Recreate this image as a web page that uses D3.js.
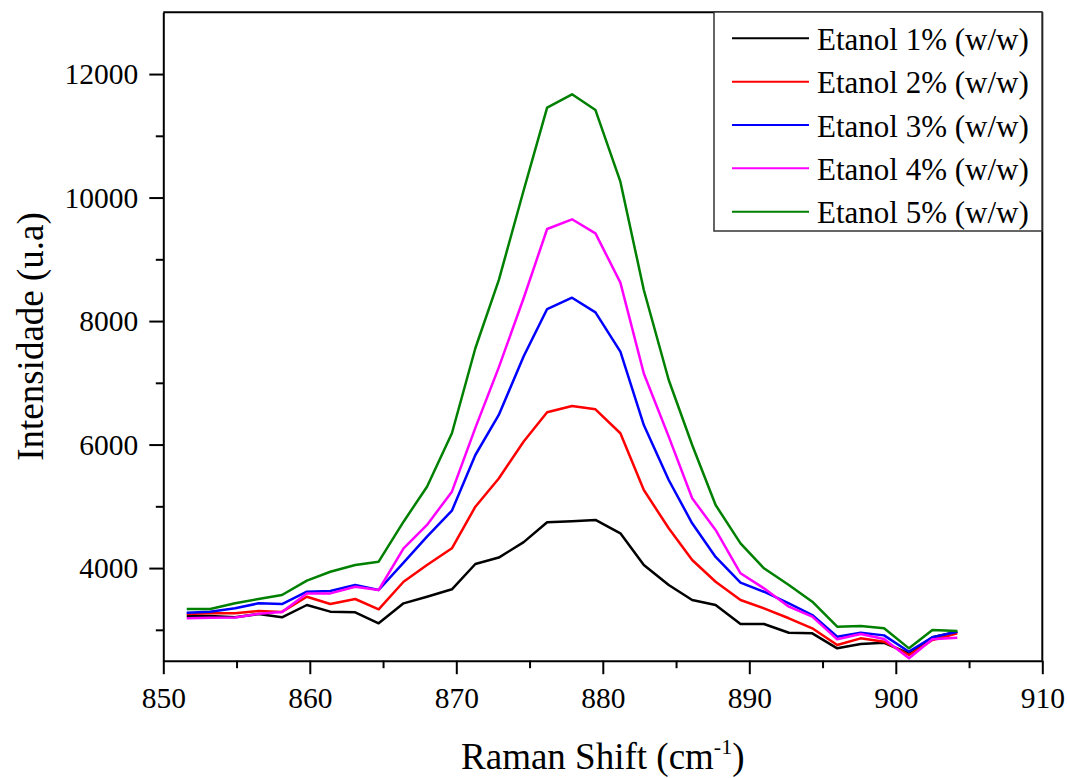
<!DOCTYPE html>
<html>
<head>
<meta charset="utf-8">
<script src="https://cdn.jsdelivr.net/npm/d3@7"></script>
<style>
  html, body { margin: 0; padding: 0; background: #fff; }
  svg { display: block; }
  text { font-family: "Liberation Serif", "Times New Roman", serif; fill: #000; }
</style>
</head>
<body>
<svg id="chart" width="1067" height="778"></svg>
<script>
// Raman shift axis (cm-1) of the measured spectra
const ramanShift = [851.6, 853.2, 854.9, 856.5, 858.1, 859.8, 861.4, 863.1, 864.7, 866.4,
  868.0, 869.7, 871.3, 872.9, 874.6, 876.2, 877.9, 879.5, 881.2, 882.8,
  884.5, 886.1, 887.7, 889.4, 891.0, 892.7, 894.3, 896.0, 897.6, 899.2,
  900.9, 902.5, 904.2];

// Intensity (u.a) for each ethanol concentration
const etanol1 = [3224, 3224, 3203, 3256, 3203, 3402, 3294, 3284, 3105, 3429,
  3536, 3656, 4066, 4170, 4420, 4741, 4757, 4779, 4563, 4050,
  3726, 3483, 3402, 3094, 3094, 2953, 2943, 2700, 2770, 2790,
  2620, 2879, 2970];
const etanol2 = [3256, 3270, 3267, 3305, 3290, 3536, 3418, 3499, 3332, 3779,
  4050, 4320, 4994, 5450, 6050, 6523, 6625, 6571, 6183, 5264,
  4644, 4131, 3779, 3483, 3348, 3187, 3025, 2754, 2862, 2808,
  2592, 2835, 2943];
const etanol3 = [3277, 3294, 3348, 3429, 3418, 3617, 3629, 3726, 3645, 4087,
  4508, 4929, 5831, 6480, 7430, 8195, 8378, 8141, 7504, 6316,
  5426, 4725, 4180, 3763, 3617, 3430, 3240, 2889, 2953, 2910,
  2646, 2879, 2970];
const etanol4 = [3187, 3195, 3200, 3260, 3290, 3590, 3590, 3698, 3645, 4320,
  4698, 5237, 6270, 7250, 8374, 9491, 9648, 9421, 8622, 7150,
  6128, 5130, 4617, 3915, 3672, 3375, 3213, 2846, 2932, 2850,
  2539, 2846, 2873];
const etanol5 = [3337, 3337, 3429, 3499, 3564, 3796, 3941, 4050, 4103, 4751,
  5318, 6183, 7560, 8662, 10119, 11455, 11672, 11417, 10257, 8503,
  7046, 5993, 5021, 4401, 3996, 3726, 3455, 3051, 3062, 3025,
  2700, 2997, 2981];

const seriesNames = ["Etanol 1% (w/w)", "Etanol 2% (w/w)", "Etanol 3% (w/w)",
  "Etanol 4% (w/w)", "Etanol 5% (w/w)"];
const seriesValues = [etanol1, etanol2, etanol3, etanol4, etanol5];
const seriesColors = ["#000000", "#ff0000", "#0000ff", "#ff00ff", "#008000"];

const xMajorTicks = [850, 860, 870, 880, 890, 900, 910];
const xMinorTicks = [855, 865, 875, 885, 895, 905];
const yMajorTicks = [4000, 6000, 8000, 10000, 12000];
const yMinorTicks = [3000, 5000, 7000, 9000, 11000];

const serif = "'Liberation Serif', 'Times New Roman', serif";

// Plot frame
const plotLeft = 163.3, plotRight = 1042.3, plotTop = 12.3, plotBottom = 660.7;
const svg = d3.select("#chart");

const x = d3.scaleLinear().domain([850, 910]).range([plotLeft, plotRight]);
const y = d3.scaleLinear().domain([2500, 13000]).range([plotBottom, plotTop]);

// Spectra
const line = d3.line()
  .x((d, i) => x(ramanShift[i]))
  .y(d => y(d));

svg.append("g")
  .selectAll("path")
  .data(seriesValues)
  .join("path")
  .attr("d", d => line(d))
  .attr("fill", "none")
  .attr("stroke", (d, i) => seriesColors[i])
  .attr("stroke-width", 2.5)
  .attr("stroke-linejoin", "round");

// Axes: major and minor ticks pointing outward
const fontTick = 29.5;
const xAxis = svg.append("g").attr("transform", `translate(0,${plotBottom})`);
xAxis.call(d3.axisBottom(x).tickValues(xMajorTicks).tickSize(13.5).tickSizeOuter(0).tickPadding(13)
  .tickFormat(d3.format("d")));
xAxis.append("g").call(d3.axisBottom(x).tickValues(xMinorTicks).tickSize(7.5).tickSizeOuter(0).tickFormat(""))
  .select(".domain").remove();

const yAxis = svg.append("g").attr("transform", `translate(${plotLeft},0)`);
yAxis.call(d3.axisLeft(y).tickValues(yMajorTicks).tickSize(14).tickSizeOuter(0).tickPadding(11)
  .tickFormat(d3.format("d")));
yAxis.append("g").call(d3.axisLeft(y).tickValues(yMinorTicks).tickSize(7.5).tickSizeOuter(0).tickFormat(""))
  .select(".domain").remove();

svg.selectAll(".domain, .tick line").attr("stroke", "#000").attr("stroke-width", 2);
[xAxis, yAxis].forEach(g => g.attr("font-family", serif).attr("font-size", fontTick));
xAxis.selectAll(".tick text").attr("font-family", serif).attr("font-size", fontTick).attr("dy", "0.71em");
yAxis.selectAll(".tick text").attr("font-family", serif).attr("font-size", fontTick);

// Top and right frame lines
svg.append("line").attr("x1", plotLeft).attr("x2", plotRight).attr("y1", plotTop).attr("y2", plotTop)
  .attr("stroke", "#000").attr("stroke-width", 2);
svg.append("line").attr("x1", plotRight).attr("x2", plotRight).attr("y1", plotTop).attr("y2", plotBottom)
  .attr("stroke", "#000").attr("stroke-width", 2);

// Axis titles
const xTitle = svg.append("text")
  .attr("x", (plotLeft + plotRight) / 2).attr("y", 769)
  .attr("text-anchor", "middle").attr("font-size", 37).attr("font-family", serif);
xTitle.append("tspan").text("Raman Shift (cm");
xTitle.append("tspan").attr("font-size", 22).attr("dy", -15).text("-1");
xTitle.append("tspan").attr("dy", 15).text(")");

svg.append("text")
  .attr("transform", `translate(43,${(plotTop + plotBottom) / 2}) rotate(-90)`)
  .attr("text-anchor", "middle").attr("font-size", 37).attr("font-family", serif)
  .text("Intensidade (u.a)");

// Legend
const legend = svg.append("g");
legend.append("rect")
  .attr("x", 714).attr("y", 12).attr("width", 328).attr("height", 219)
  .attr("fill", "#fff").attr("stroke", "#333").attr("stroke-width", 1.5);
const rows = legend.selectAll("g.row")
  .data(seriesNames)
  .join("g")
  .attr("class", "row")
  .attr("transform", (d, i) => `translate(0,${38.3 + i * 43.35})`);
rows.append("line")
  .attr("x1", 732).attr("x2", 809).attr("y1", 0).attr("y2", 0)
  .attr("stroke", (d, i) => seriesColors[i]).attr("stroke-width", 2);
rows.append("text")
  .attr("x", 817).attr("y", 11.5).attr("font-size", 31).attr("font-family", serif)
  .text(d => d);
</script>
</body>
</html>
